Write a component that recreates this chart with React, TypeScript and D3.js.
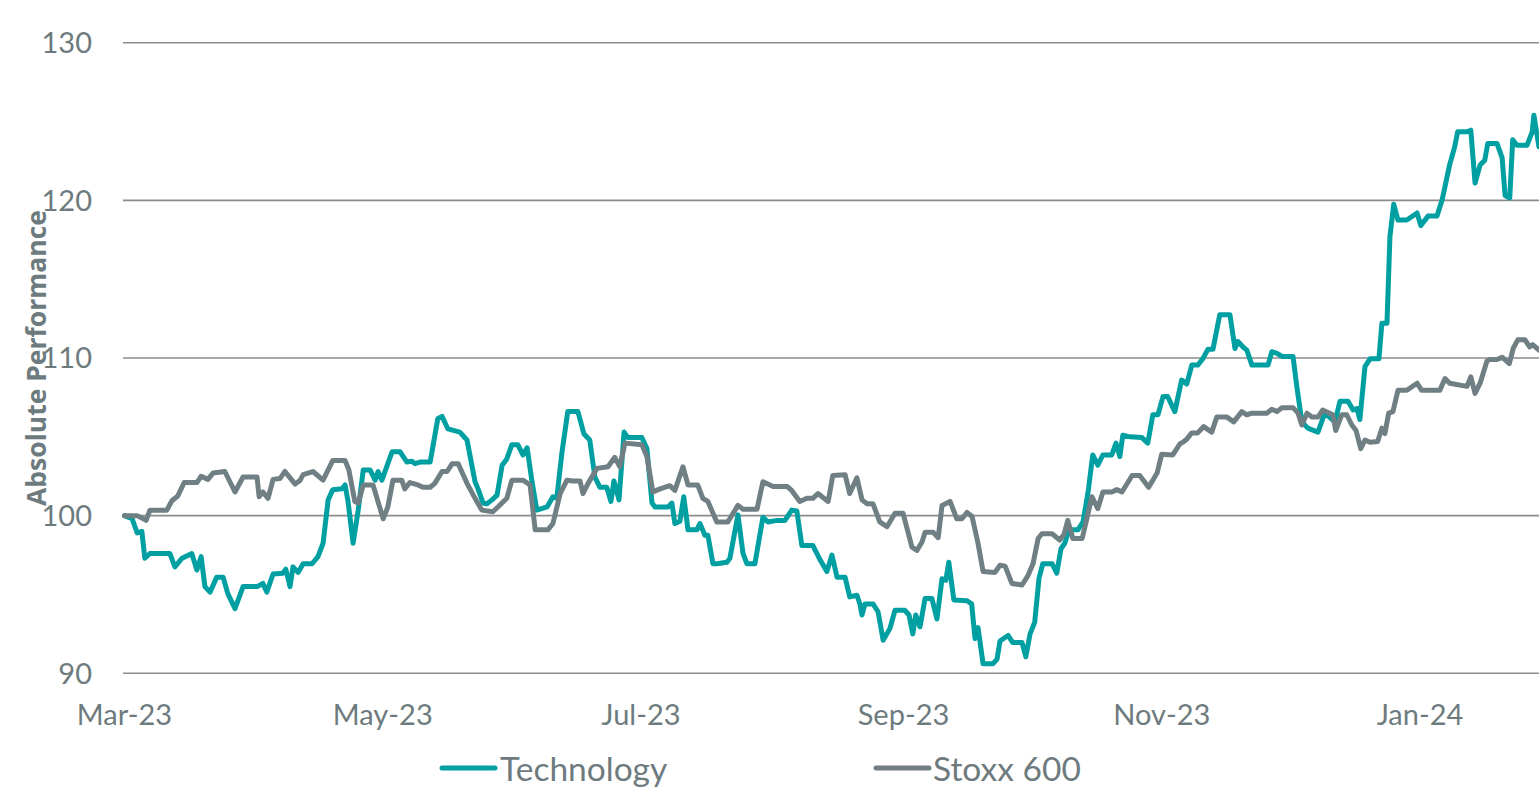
import React from "react";
import * as d3 from "d3";

// ---- data ----
// offsets in days from 1 Mar 2023
const techDays = [0,1.8,3.0,4.1,4.8,6.0,10.7,11.9,13.6,15.9,17.1,18.1,19.0,20.2,21.8,23.3,24.4,26.1,28.0,31.3,32.7,33.6,35.1,37.4,38.1,39.1,39.8,41.0,42.2,44.3,45.7,46.9,48.1,49.2,51.4,52.1,52.8,54.0,55.2,56.4,58.0,59.2,59.9,60.8,63.2,65.1,66.7,67.9,68.6,69.8,72.2,74.0,75.0,76.4,79.2,80.9,82.8,83.5,84.7,85.6,86.8,88.0,89.2,90.3,91.5,92.9,94.1,95.1,96.2,97.4,99.8,101.2,102.1,103.3,104.7,107.1,108.5,109.9,111.1,112.3,113.9,114.9,115.6,116.8,118.0,118.9,122.2,123.4,124.6,125.3,128.4,129.3,130.0,131.2,132.1,133.1,135.2,135.9,137.1,137.8,139.0,139.9,142.3,143.0,144.9,146.1,147.0,148.9,150.8,152.0,154.1,156.0,157.6,158.8,160.0,162.6,164.3,165.9,167.1,168.3,170.2,171.3,173.0,173.7,174.2,174.9,176.8,178.0,179.2,180.8,182.0,184.3,185.3,186.2,186.9,187.9,189.1,190.7,191.9,193.1,194.0,194.7,195.9,199.0,200.1,200.9,201.6,202.8,205.1,206.1,206.8,208.7,209.8,212.0,212.9,213.9,215.0,216.0,216.9,219.1,220.2,221.2,222.1,223.1,225.2,226.4,227.6,228.7,229.9,231.1,233.2,234.2,235.1,235.8,237.5,240.3,241.7,242.9,244.1,245.3,246.4,248.1,249.7,250.9,252.1,253.5,254.7,255.9,257.1,258.7,261.1,262.3,263.0,264.2,265.1,266.3,270.1,271.0,272.2,273.4,276.0,276.9,278.1,279.5,281.9,283.5,285.9,287.1,289.0,290.2,291.1,291.8,293.0,294.2,296.3,297.0,298.2,298.9,299.8,300.8,302.9,305.3,306.2,307.9,310.0,311.2,313.0,314.2,314.9,317.1,318.0,319.0,320.2,321.3,322.0,324.2,325.4,326.1,327.2,327.9,328.9,331.3,332.5,332.9,334.1];
const techValues = [100,99.8,98.9,99.0,97.3,97.6,97.6,96.75,97.3,97.6,96.55,97.4,95.5,95.15,96.1,96.1,95.05,94.1,95.5,95.5,95.7,95.15,96.3,96.35,96.6,95.5,96.75,96.4,96.95,96.95,97.4,98.25,101.0,101.65,101.7,101.95,100.9,98.25,100.35,102.9,102.9,102.25,102.8,102.25,104.05,104.05,103.4,103.45,103.3,103.4,103.4,106.15,106.3,105.5,105.3,104.8,102.15,101.7,100.8,100.75,101.0,101.3,103.2,103.6,104.5,104.5,103.85,104.3,102.25,100.35,100.55,101.2,101.1,103.95,106.6,106.6,105.2,104.8,102.45,101.8,101.8,100.9,102.2,101.0,105.3,104.95,104.95,104.25,100.8,100.55,100.55,100.8,99.5,99.65,101.2,99.1,99.1,99.5,98.75,98.75,96.95,96.95,97.05,97.3,100.05,97.6,96.95,96.95,99.9,99.6,99.7,99.7,100.35,100.3,98.1,98.1,97.2,96.45,97.5,96.1,96.1,94.85,94.95,94.4,93.7,94.4,94.4,93.9,92.1,92.85,94.0,94.0,93.7,92.5,93.7,92.95,94.75,94.75,93.45,96.0,95.9,97.05,94.65,94.6,94.4,92.2,92.9,90.6,90.6,90.9,92.05,92.4,91.95,91.95,91.05,92.5,93.25,96.0,96.95,96.95,96.35,97.9,98.25,99.1,99.1,99.6,101.5,103.85,103.2,103.85,103.85,104.6,103.75,105.1,105.0,104.95,104.6,106.4,106.4,107.55,107.55,106.6,108.6,108.35,109.55,109.55,109.95,110.55,110.55,112.75,112.75,110.6,111.05,110.7,110.5,109.55,109.55,110.4,110.3,110.1,110.1,108.2,105.95,105.55,105.3,106.5,105.95,107.25,107.25,106.7,106.8,106.1,109.45,109.95,109.95,112.2,112.2,117.7,119.75,118.75,118.75,119.2,118.4,119.0,119.0,120.0,122.25,123.4,124.35,124.35,124.45,121.1,122.25,122.55,123.6,123.6,122.7,120.3,120.15,123.85,123.5,123.5,124.35,125.4,123.4];

const stoxxDays = [0,3.0,5.1,6.0,10.0,11.2,12.6,14.1,17.1,18.1,19.7,20.9,23.7,26.1,28.0,31.3,31.8,32.7,33.9,35.1,36.7,37.9,40.3,41.5,42.2,44.5,46.9,49.2,52.1,53.0,54.4,55.2,56.4,58.7,61.1,62.2,63.4,65.5,66.2,67.4,69.3,70.5,72.2,73.3,75.0,76.2,77.4,78.8,80.9,82.8,84.4,87.0,88.2,90.3,91.5,94.1,95.8,97.0,100.0,101.2,102.9,104.5,105.9,107.6,108.3,109.4,111.6,114.2,115.8,117.0,118.2,122.2,123.4,124.8,126.5,128.8,130.0,131.9,133.1,135.4,136.6,137.8,139.9,142.5,144.9,146.1,149.4,150.8,153.2,156.5,157.6,159.5,161.2,162.6,163.8,166.2,167.3,170.2,171.3,173.0,174.2,175.4,176.8,178.4,180.1,182.0,183.9,186.0,187.2,188.4,189.1,191.0,192.2,193.1,195.0,196.6,197.8,199.0,200.2,201.6,202.8,205.6,206.8,208.0,209.6,212.0,213.4,214.6,215.8,216.7,219.1,220.9,221.9,222.8,224.0,226.2,227.3,228.5,229.9,231.1,233.2,234.4,235.6,238.0,239.8,241.9,243.9,245.0,247.6,249.3,250.2,250.9,252.1,253.5,254.9,256.8,258.0,260.4,262.0,263.9,265.1,266.3,269.8,271.0,272.2,273.4,276.0,277.2,278.1,279.3,280.5,281.9,283.0,285.4,286.1,287.5,288.7,289.9,290.9,292.0,293.0,294.2,296.0,297.0,297.7,298.6,299.6,300.8,302.9,305.3,306.4,310.7,311.9,313.0,317.1,318.0,319.0,320.2,321.8,322.5,324.2,325.4,327.1,328.0,329.1,330.8,331.9,332.6,334.1];
const stoxxValues = [100,100,99.7,100.35,100.35,100.95,101.25,102.1,102.1,102.5,102.3,102.7,102.8,101.5,102.45,102.45,101.2,101.5,101.1,102.3,102.35,102.8,102.0,102.25,102.6,102.8,102.25,103.5,103.5,102.9,100.9,100.8,101.95,101.95,99.8,100.55,102.25,102.25,101.7,102.1,101.95,101.8,101.8,102.05,102.8,102.8,103.3,103.3,102.05,101.1,100.35,100.25,100.55,101.1,102.25,102.25,101.95,99.1,99.1,99.5,101.4,102.25,102.2,102.2,101.4,102.0,103.0,103.1,103.7,103.1,104.6,104.5,103.75,101.5,101.7,101.9,101.6,103.1,101.95,101.95,101.1,100.9,99.6,99.6,100.65,100.4,100.4,102.15,101.85,101.85,101.6,100.9,101.1,101.1,101.4,100.9,102.55,102.6,101.4,102.4,101.0,100.75,100.75,99.6,99.3,100.15,100.15,98.0,97.8,98.35,98.95,98.95,98.6,100.65,100.9,99.8,99.8,100.2,99.95,98.25,96.45,96.4,96.85,96.8,95.7,95.6,96.2,96.95,98.55,98.85,98.85,98.45,98.8,99.7,98.55,98.55,99.8,101.2,100.45,101.5,101.5,101.65,101.5,102.55,102.55,101.8,102.7,103.9,103.85,104.55,104.7,104.85,105.25,105.25,105.65,105.3,106.25,106.25,105.95,106.6,106.4,106.5,106.5,106.75,106.6,106.85,106.85,106.5,105.75,106.5,106.25,106.25,106.7,106.4,105.4,106.4,106.4,105.75,105.4,104.25,104.8,104.65,104.7,105.55,105.2,106.5,106.6,107.95,107.95,108.4,107.95,107.95,108.7,108.4,108.2,108.8,107.75,108.4,109.8,109.9,109.9,110.05,109.65,110.6,111.15,111.15,110.7,110.85,110.5];

const yTicks = [90, 100, 110, 120, 130];
const xTickLabels = ["Mar-23", "May-23", "Jul-23", "Sep-23", "Nov-23", "Jan-24"];
const seriesNames = ["Technology", "Stoxx 600"];
const yAxisTitle = "Absolute Performance";

// ---- style ----
const W = 1539;
const H = 787;
const TEAL = "#00A0A2";
const GREY = "#6F7F83";
const TEXT = "#6E7B7E";
const GRID = "#8C8C8C";
const FONT = "Lato, 'Open Sans', sans-serif";

const start = Date.UTC(2023, 2, 1);
const toDate = (d: number) => new Date(start + d * 864e5);

export default function App() {
  const x = d3
    .scaleUtc()
    .domain([new Date(Date.UTC(2023, 2, 1)), new Date(Date.UTC(2024, 0, 1))])
    .range([124.5, 1420]);
  const y = d3.scaleLinear().domain([90, 130]).range([673.3, 42.7]);

  const tickDates = d3.utcMonth.every(2)!.range(
    new Date(Date.UTC(2023, 2, 1)),
    new Date(Date.UTC(2024, 0, 2))
  );

  const tech = techDays.map((d, i) => ({ date: toDate(d), v: techValues[i] }));
  const stoxx = stoxxDays.map((d, i) => ({ date: toDate(d), v: stoxxValues[i] }));

  const line = d3
    .line<{ date: Date; v: number }>()
    .x((p) => x(p.date))
    .y((p) => y(p.v));

  return (
    <svg
      width={W}
      height={H}
      style={{ position: "absolute", left: 0, top: 0, background: "#fff" }}
      fontFamily={FONT}
    >
      {/* gridlines */}
      {yTicks.map((t) => (
        <line key={t} x1={123} x2={W} y1={y(t)} y2={y(t)} stroke={GRID} strokeWidth={1.6} />
      ))}
      {/* y tick labels */}
      {yTicks.map((t) => (
        <text key={"l" + t} x={92} y={y(t)} dy="0.36em" textAnchor="end" fontSize={29} fill={TEXT}>
          {t}
        </text>
      ))}
      {/* x tick labels */}
      {tickDates.map((d, i) => (
        <text key={"x" + i} x={x(d)} y={725} textAnchor="middle" fontSize={29} fill={TEXT}>
          {xTickLabels[i]}
        </text>
      ))}
      {/* y axis title */}
      <text
        transform={`translate(46,358) rotate(-90)`}
        textAnchor="middle"
        fontFamily="'Open Sans', 'Noto Sans', sans-serif"
        fontSize={26.5}
        fontWeight={700}
        fill={TEXT}
      >
        {yAxisTitle}
      </text>
      {/* series */}
      <path d={line(tech) || ""} fill="none" stroke={TEAL} strokeWidth={5} strokeLinejoin="round" strokeLinecap="round" />
      <path d={line(stoxx) || ""} fill="none" stroke={GREY} strokeWidth={5} strokeLinejoin="round" strokeLinecap="round" />
      {/* legend */}
      <line x1={442} x2={495} y1={768} y2={768} stroke={TEAL} strokeWidth={5} strokeLinecap="round" />
      <text x={500} y={781} fontSize={33.5} fill={TEXT}>{seriesNames[0]}</text>
      <line x1={876} x2={929} y1={768} y2={768} stroke={GREY} strokeWidth={5} strokeLinecap="round" />
      <text x={933} y={781} fontSize={33.5} fill={TEXT}>{seriesNames[1]}</text>
    </svg>
  );
}
